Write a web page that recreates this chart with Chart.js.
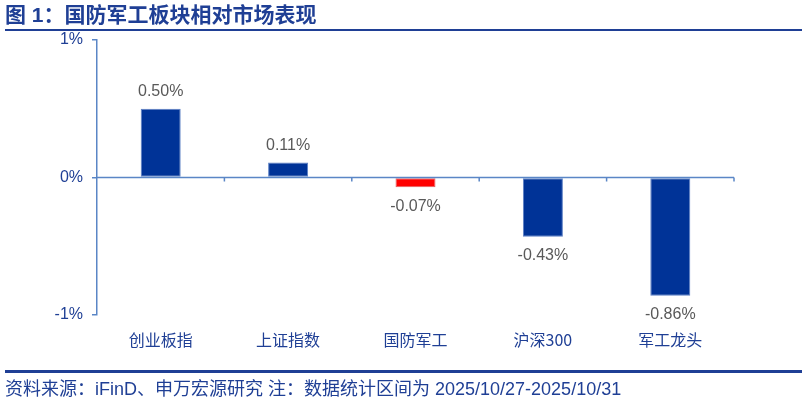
<!DOCTYPE html>
<html>
<head>
<meta charset="utf-8">
<script src="https://cdn.jsdelivr.net/npm/chart.js@4.4.1/dist/chart.umd.min.js"></script>
<style>
  html, body { margin: 0; padding: 0; background: #fff; }
  #wrap { position: relative; width: 807px; height: 406px; overflow: hidden; }
  #c { position: absolute; left: 0; top: 0; }
  .title { position: absolute; left: 5px; top: 3px; font: bold 21px "Liberation Sans", "Noto Sans CJK SC", sans-serif; color: #1f3f95; line-height: 24px; white-space: nowrap; }
  .rule { position: absolute; left: 5px; width: 797px; background: #1f3f95; }
  .src { position: absolute; left: 5px; top: 378px; font: 18px "Liberation Sans", "Noto Sans CJK SC", sans-serif; color: #1f3f95; line-height: 22px; white-space: nowrap; }
</style>
</head>
<body>
<div id="wrap">
  <canvas id="c" width="807" height="406"></canvas>
  <div class="title">图 1：国防军工板块相对市场表现</div>
  <div class="rule" style="top:29px;height:2px;"></div>
  <div class="rule" style="top:370px;height:3px;"></div>
  <div class="src">资料来源：iFinD、申万宏源研究 注：数据统计区间为 2025/10/27-2025/10/31</div>
</div>
<script>
const categories = ['创业板指', '上证指数', '国防军工', '沪深300', '军工龙头'];
const values = [0.50, 0.11, -0.07, -0.43, -0.86];
const yTicks = [-1, 0, 1];
const highlight = '国防军工';

const AXIS = '#5a86c6';
const DARK = '#1f3f95';
const BLUE = '#003397';
const RED = '#ff0000';

const zeroLine = {
  id: 'zeroLine',
  afterDatasetsDraw(chart) {
    const { ctx, chartArea, scales } = chart;
    const y0 = scales.y.getPixelForValue(0);
    ctx.save();
    ctx.strokeStyle = AXIS;
    ctx.lineWidth = 1.5;
    ctx.beginPath();
    ctx.moveTo(chartArea.left, y0);
    ctx.lineTo(chartArea.right, y0);
    for (let i = 0; i < categories.length; i++) {
      const xb = scales.x.getPixelForValue(i + 0.5);
      ctx.moveTo(xb, y0);
      ctx.lineTo(xb, y0 + 4);
    }
    ctx.stroke();
    ctx.restore();
  }
};

const dataLabels = {
  id: 'dataLabels',
  afterDatasetsDraw(chart) {
    const { ctx } = chart;
    const meta = chart.getDatasetMeta(0);
    ctx.save();
    ctx.font = '16px "Liberation Sans", Arial, sans-serif';
    ctx.fillStyle = '#595959';
    ctx.textAlign = 'center';
    ctx.textBaseline = 'middle';
    meta.data.forEach((bar, i) => {
      const v = values[i];
      const txt = v.toFixed(2) + '%';
      const y = v >= 0 ? bar.y - 17 : bar.y + 19;
      ctx.fillText(txt, bar.x, y);
    });
    ctx.restore();
  }
};

new Chart(document.getElementById('c'), {
  type: 'bar',
  data: {
    labels: categories,
    datasets: [{
      data: values,
      backgroundColor: ctx => categories[ctx.dataIndex] === highlight ? RED : BLUE,
      borderColor: ctx => categories[ctx.dataIndex] === highlight ? '#e06060' : '#5b7fc4',
      borderWidth: 1,
      borderSkipped: false,
      barPercentage: 0.314,
      categoryPercentage: 1
    }]
  },
  options: {
    responsive: false,
    animation: false,
    devicePixelRatio: 1,
    layout: { padding: { top: 40, right: 73, left: 0, bottom: 0 } },
    plugins: { legend: { display: false }, tooltip: { enabled: false } },
    scales: {
      x: {
        grid: { display: false, drawTicks: false },
        border: { display: false },
        ticks: {
          padding: 15,
          color: DARK,
          font: { size: 16, family: '"Noto Sans CJK SC", "Liberation Sans", sans-serif' }
        },
        afterFit: s => { s.height = 91; }
      },
      y: {
        min: -1, max: 1,
        afterBuildTicks: s => { s.ticks = yTicks.map(v => ({ value: v })); },
        grid: { drawOnChartArea: false, drawTicks: true, tickLength: 5, color: AXIS, lineWidth: 1.5 },
        border: { display: true, color: AXIS, width: 1.5 },
        ticks: {
          padding: 9,
          color: DARK,
          font: { size: 16, family: '"Liberation Sans", Arial, sans-serif' },
          callback: v => v + '%'
        },
        afterFit: s => { s.width = 97; }
      }
    }
  },
  plugins: [zeroLine, dataLabels]
});
</script>
</body>
</html>
